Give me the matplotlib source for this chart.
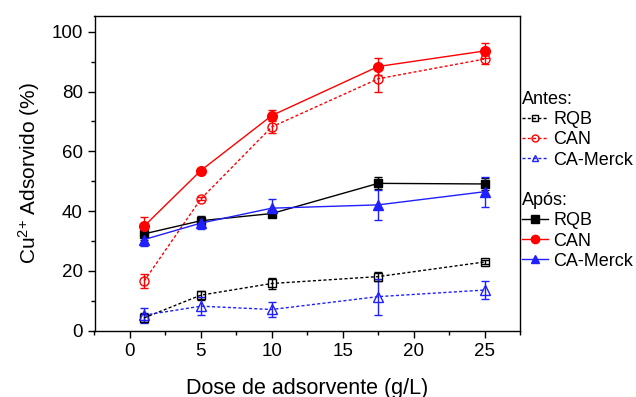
import matplotlib
matplotlib.use("Agg")
import matplotlib.pyplot as plt
from matplotlib.ticker import MultipleLocator
from matplotlib.lines import Line2D

plt.rcParams['font.family'] = ['Liberation Sans', 'DejaVu Sans']
plt.rcParams['mathtext.fontset'] = 'custom'
plt.rcParams['mathtext.rm'] = 'Liberation Sans'
plt.rcParams['mathtext.it'] = 'Liberation Sans:italic'
plt.rcParams['mathtext.bf'] = 'Liberation Sans:bold'

dose = [1, 5, 10, 17.5, 25]

antes_rqb = [4.3, 11.9, 15.8, 18.1, 23.0]
antes_rqb_err = [1.5, 1.5, 2.0, 1.5, 0.8]
antes_can = [16.6, 44.1, 68.2, 84.3, 90.9]
antes_can_err = [2.3, 0.5, 2.2, 4.3, 1.5]
antes_merck = [5.2, 8.2, 7.1, 11.4, 13.6]
antes_merck_err = [2.5, 3.0, 2.4, 6.0, 3.0]

apos_rqb = [32.4, 36.8, 39.2, 49.3, 49.1]
apos_rqb_err = [2.0, 1.5, 1.0, 2.0, 2.0]
apos_can = [35.0, 53.6, 72.0, 88.4, 93.6]
apos_can_err = [3.0, 0.5, 2.0, 3.0, 2.5]
apos_merck = [30.5, 36.0, 41.0, 42.1, 46.5]
apos_merck_err = [2.0, 2.0, 3.0, 5.0, 5.0]

series_names = ['RQB', 'CAN', 'CA-Merck']

fig = plt.figure(figsize=(6.36, 3.97), dpi=100)
ax = fig.add_axes([94.5/636, 1 - 330.7/397, (520 - 94.5)/636, (330.7 - 16)/397])

blue = '#1f1fff'
red = '#ff0000'
black = '#000000'
dot = (0, (2.2, 1.6))

styles_antes = [
    dict(color=black, marker='s', ms=5.5),
    dict(color=red, marker='o', ms=6.5),
    dict(color=blue, marker='^', ms=7),
]
styles_apos = [
    dict(color=black, marker='s', ms=5.5),
    dict(color=red, marker='o', ms=7),
    dict(color=blue, marker='^', ms=7.5),
]

common = dict(capsize=3, elinewidth=1, capthick=1, lw=1)
antes = [(antes_rqb, antes_rqb_err), (antes_can, antes_can_err), (antes_merck, antes_merck_err)]
apos = [(apos_rqb, apos_rqb_err), (apos_can, apos_can_err), (apos_merck, apos_merck_err)]

for (y, e), st in zip(antes, styles_antes):
    ax.errorbar(dose, y, yerr=e, ls=dot, mfc='none', mec=st['color'], mew=1,
                color=st['color'], marker=st['marker'], ms=st['ms'], **common)
for (y, e), st in zip(apos, styles_apos):
    ax.errorbar(dose, y, yerr=e, ls='-', mfc=st['color'], mec=st['color'],
                color=st['color'], marker=st['marker'], ms=st['ms'], **common)

ax.set_xlim(-2.5, 27.5)
ax.set_ylim(0, 105.3)
ax.xaxis.set_major_locator(MultipleLocator(5))
ax.xaxis.set_minor_locator(MultipleLocator(2.5))
ax.yaxis.set_major_locator(MultipleLocator(20))
ax.yaxis.set_minor_locator(MultipleLocator(10))
ax.tick_params(axis='both', which='major', direction='out', length=5, width=1, labelsize=13.5)
ax.tick_params(axis='both', which='minor', direction='out', length=3, width=1)
ax.tick_params(top=False, right=False)
for s in ax.spines.values():
    s.set_linewidth(1)

ax.set_xlabel('Dose de adsorvente (g/L)', fontsize=15.5, labelpad=13)
ax.set_ylabel('Cu$^{2{+}}$ Adsorvido (%)', fontsize=15, labelpad=7)

h_antes = [Line2D([], [], ls=dot, lw=1, color=st['color'], marker=st['marker'], ms=5,
                  mfc='none', mec=st['color']) for st in styles_antes]
h_apos = [Line2D([], [], ls='-', lw=1, color=st['color'], marker=st['marker'], ms=6,
                 mfc=st['color'], mec=st['color']) for st in styles_apos]

legkw = dict(loc='upper left', frameon=False, fontsize=13, title_fontsize=13,
             handlelength=1.45, handletextpad=0.3, borderaxespad=0, borderpad=0,
             labelspacing=0.18, alignment='left', bbox_transform=fig.transFigure)
leg1 = ax.legend(h_antes, series_names, title='Antes:', bbox_to_anchor=(522/636, 1 - 91/397), **legkw)
ax.add_artist(leg1)
leg2 = ax.legend(h_apos, series_names, title='Após:', bbox_to_anchor=(522/636, 1 - 192/397), **legkw)

fig.savefig('out.png', dpi=100)
